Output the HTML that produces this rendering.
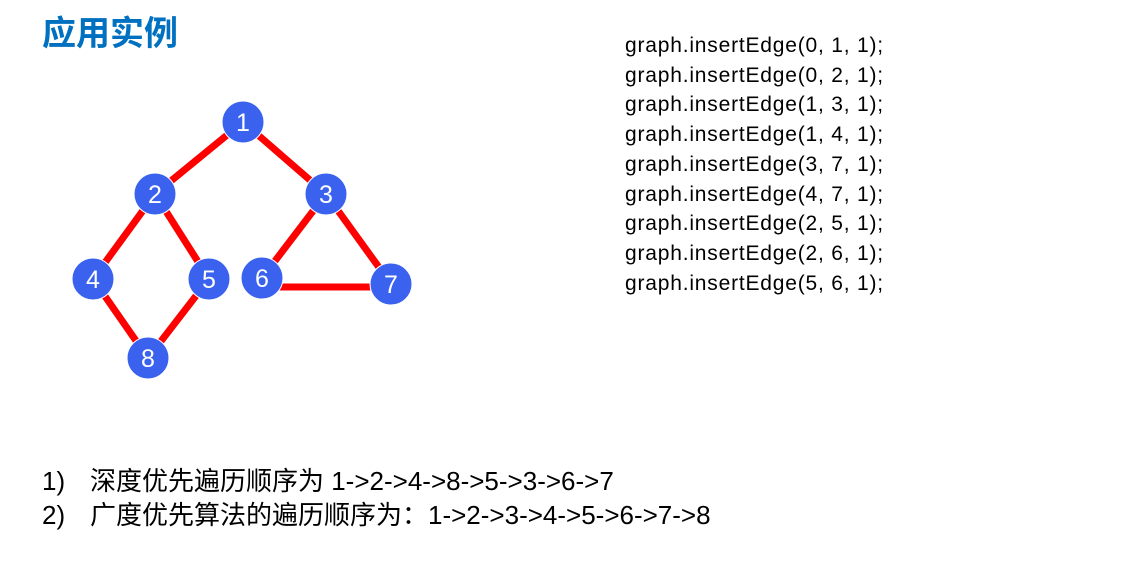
<!DOCTYPE html>
<html><head><meta charset="utf-8"><style>
body{margin:0;width:1133px;height:585px;background:#fff;position:relative;overflow:hidden;font-family:"Liberation Sans","Noto Sans CJK SC",sans-serif}
.t{position:absolute;left:42px;top:8px;font-size:34px;line-height:46px;color:#0070c0;font-weight:bold;font-family:"Noto Sans CJK SC",sans-serif}
.code{position:absolute;left:625px;top:31px;font-size:21px;letter-spacing:0.8px;line-height:29.7px;color:#000}
.b{position:absolute;left:42px;font-size:26px;line-height:34px;color:#000;font-family:"Liberation Sans","Noto Sans CJK SC",sans-serif;white-space:pre}
.b span{position:absolute;left:48px;top:0}
</style></head><body>
<div class="t">应用实例</div>
<svg width="1133" height="585" style="position:absolute;left:0;top:0">
<g stroke="#f00" stroke-width="7">
<line x1="243" y1="122" x2="155" y2="194"/><line x1="243" y1="122" x2="326" y2="194"/>
<line x1="155" y1="194" x2="93" y2="279"/><line x1="155" y1="194" x2="209" y2="279"/>
<line x1="93" y1="279" x2="148" y2="358"/><line x1="209" y1="279" x2="148" y2="358"/>
<line x1="326" y1="194" x2="262" y2="278"/><line x1="326" y1="194" x2="391" y2="284"/>
<line x1="262" y1="287" x2="391" y2="287"/>
</g>
<g fill="#3a62ef" stroke="#fff" stroke-width="1">
<circle cx="243" cy="122" r="21"/><circle cx="155" cy="194" r="21"/><circle cx="326" cy="194" r="21"/>
<circle cx="93" cy="279" r="21"/><circle cx="209" cy="279" r="21"/><circle cx="262" cy="278" r="21"/>
<circle cx="391" cy="284" r="21"/><circle cx="148" cy="358" r="21"/>
</g>
<g fill="#fff" font-size="25" font-family="Liberation Sans" text-anchor="middle">
<text x="243" y="131">1</text><text x="155" y="203">2</text><text x="326" y="203">3</text>
<text x="93" y="288">4</text><text x="209" y="288">5</text><text x="262" y="287">6</text>
<text x="391" y="293">7</text><text x="148" y="367">8</text>
</g>
</svg>
<div class="code">graph.insertEdge(0, 1, 1);<br>graph.insertEdge(0, 2, 1);<br>graph.insertEdge(1, 3, 1);<br>graph.insertEdge(1, 4, 1);<br>graph.insertEdge(3, 7, 1);<br>graph.insertEdge(4, 7, 1);<br>graph.insertEdge(2, 5, 1);<br>graph.insertEdge(2, 6, 1);<br>graph.insertEdge(5, 6, 1);</div>
<div class="b" style="top:464px">1)<span>深度优先遍历顺序为 1-&gt;2-&gt;4-&gt;8-&gt;5-&gt;3-&gt;6-&gt;7</span></div>
<div class="b" style="top:498px">2)<span>广度优先算法的遍历顺序为：1-&gt;2-&gt;3-&gt;4-&gt;5-&gt;6-&gt;7-&gt;8</span></div>
</body></html>
